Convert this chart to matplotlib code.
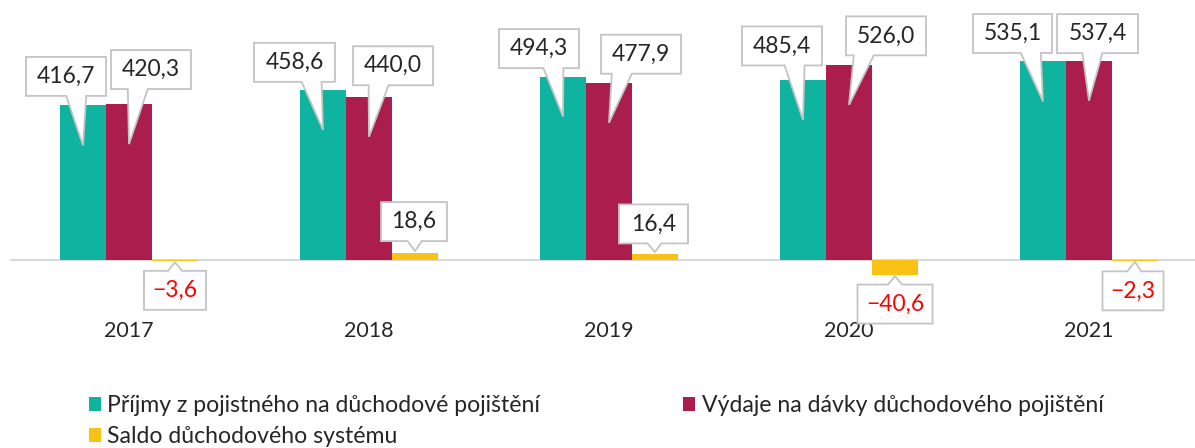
import matplotlib
matplotlib.use("Agg")
import matplotlib.pyplot as plt
from matplotlib.patches import Polygon, Patch
import numpy as np

# ---- data ----
years = ["2017", "2018", "2019", "2020", "2021"]
prijmy = [416.7, 458.6, 494.3, 485.4, 535.1]
vydaje = [420.3, 440.0, 477.9, 526.0, 537.4]
saldo = [-3.6, 18.6, 16.4, -40.6, -2.3]
series_names = ["Příjmy z pojistného na důchodové pojištění",
                "Výdaje na dávky důchodového pojištění",
                "Saldo důchodového systému"]
colors = ["#10B2A0", "#AA1D4D", "#F9C316"]

plt.rcParams['font.family'] = ['Lato', 'DejaVu Sans']

W, H = 1195, 448
fig = plt.figure(figsize=(W / 100, H / 100), dpi=100)

# axes in pixel layout (y from top)
ax_l, ax_r, ax_t, ax_b = 10, 1195, 0, 300
ax = fig.add_axes([ax_l / W, 1 - ax_b / H, (ax_r - ax_l) / W, (ax_b - ax_t) / H])

pxu = 0.371  # pixels per unit
base_px = 260
ax.set_ylim(-(ax_b - base_px) / pxu, (base_px - ax_t) / pxu)
grp = 240.0
c0 = 129
ax.set_xlim(-(c0 - ax_l) / grp, 4 + (ax_r - (c0 + 4 * grp)) / grp)

x = np.arange(len(years))
bw = 46 / grp
all_series = [prijmy, vydaje, saldo]
for i, (vals, col) in enumerate(zip(all_series, colors)):
    ax.bar(x + (i - 1) * bw, vals, width=bw, color=col, zorder=2, linewidth=0)

for s in ax.spines.values():
    s.set_visible(False)
ax.axhline(0, color="#D9D9D9", lw=1.5, zorder=1)
ax.set_yticks([])
ax.set_xticks(x)
ax.set_xticklabels(years, fontsize=15.5, color="#262626")
ax.tick_params(axis='x', length=0, pad=15)

# ---- callout layout: (dx, dy, width) box centre relative to tip, pixels, y down ----
layout = [
    [(-17, -69, 80), (-28.5, -67.5, 81), (-24, -68, 80), (-21, -74, 80), (-30.5, -68, 79)],
    [(22, -74.5, 80), (24, -71, 80), (32, -68.5, 80), (37, -69, 80), (8.5, -67, 81)],
    [(0, 28, 62), (-1, -29.5, 66), (-1.5, -28, 69), (0, 28, 75), (-2, 29, 61)],
]
box_h = 39


def to_px(xd, yd):
    dx, dy = ax.transData.transform((xd, yd))
    return dx, H - dy


def from_px(pts):
    pts = np.asarray(pts, dtype=float)
    disp = np.column_stack([pts[:, 0], H - pts[:, 1]])
    return fig.transFigure.inverted().transform(disp)


for si, vals in enumerate(all_series):
    for gi, v in enumerate(vals):
        xc = x[gi] + (si - 1) * bw
        tx, ty = to_px(xc, v)
        if si < 2:
            ty += 40
        else:
            ty += -2 if v > 0 else 1
        dx, dy, bwid = layout[si][gi]
        cx, cy = tx + dx, ty + dy
        l, r = cx - bwid / 2, cx + bwid / 2
        t, b = cy - box_h / 2, cy + box_h / 2
        hw = 10 if si < 2 else 7
        bx = cx + 0.6 * (tx - cx)
        bx = min(max(bx, l + hw + 4), r - hw - 4)
        if ty > b:
            pts = [(l, t), (r, t), (r, b), (bx + hw, b), (tx, ty), (bx - hw, b), (l, b)]
        else:
            pts = [(l, t), (bx - hw, t), (tx, ty), (bx + hw, t), (r, t), (r, b), (l, b)]
        poly = Polygon(from_px(pts), closed=True, transform=fig.transFigure,
                       facecolor="white", edgecolor="#C4C4C4", lw=1.3, zorder=5)
        fig.patches.append(poly)
        txt = f"{abs(v):.1f}".replace(".", ",")
        if v < 0:
            txt = "\u2212" + txt
        fc = from_px([(cx, cy)])[0]
        fig.text(fc[0], fc[1], txt, ha="center", va="center", fontsize=16.5,
                 color="#FF0000" if v < 0 else "#262626", zorder=6)

# ---- legend ----
handles = [Patch(facecolor=c, edgecolor='none') for c in colors]
order = [0, 2, 1]
fig.legend([handles[i] for i in order], [series_names[i] for i in order],
           ncol=2, loc="upper left", bbox_to_anchor=(89 / W, 1 - 395 / H),
           frameon=False, fontsize=16.6, handlelength=0.5, handleheight=0.55,
           handletextpad=0.3, columnspacing=6.2, labelspacing=0.45,
           borderpad=0, borderaxespad=0, labelcolor="#262626")

fig.savefig("out.png", dpi=100)
